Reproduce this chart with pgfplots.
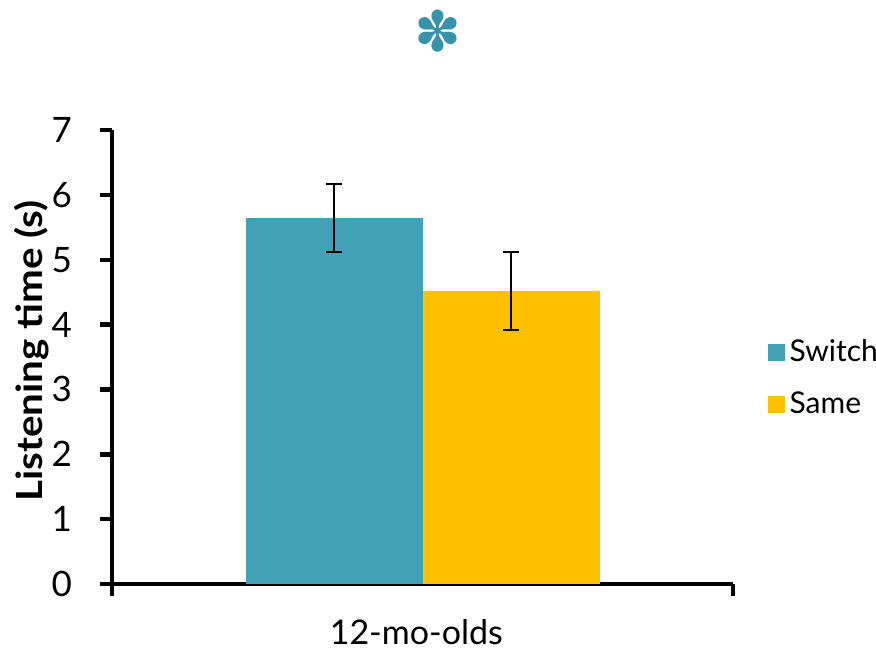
\documentclass[border=0pt]{standalone}
\usepackage{pgfplots}
\pgfplotsset{compat=1.18}
\usepackage{fontspec}
\setmainfont{Lato}
\newfontfamily\ylabfont[FakeStretch=1.12]{Lato}
\newfontfamily\symfont{DejaVu Sans}
\definecolor{cteal}{HTML}{43A1B7}
\definecolor{cyel}{HTML}{FFC000}
\definecolor{cstar}{HTML}{3794A8}
\begin{document}
\begin{tikzpicture}
\begin{axis}[
  at={(0,0)}, anchor=south west,
  width=310.5pt, height=227pt, scale only axis,
  xmin=0, xmax=1, ymin=0, ymax=7,
  axis x line*=bottom, axis y line*=left,
  axis line style={line width=2.2pt, black, -},
  ytick={0,1,2,3,4,5,6,7},
  xtick={0,1}, xticklabels={},
  tick align=outside,
  major tick length=6pt,
  tick style={line width=2.2pt, black},
  /pgf/number format/assume math mode=true,
  ticklabel style={font=\fontsize{17.5}{20}\selectfont},
  yticklabel style={anchor=east, xshift=-10.5pt},
  ybar=0pt, bar width=88.5pt,
  xlabel={12-mo-olds},
  xlabel style={font=\fontsize{17}{20}\selectfont, at={(axis description cs:0.49,0)}, anchor=north, yshift=-14pt},
  ylabel={Listening time (s)},
  ylabel style={font=\ylabfont\fontsize{18}{22}\selectfont\bfseries, at={(axis description cs:-0.13,0.513)}, anchor=center},
  legend style={at={(axis description cs:1.055,0.4537)}, anchor=west, draw=none, fill=none,
    font=\fontsize{15}{18}\selectfont, row sep=11.5pt, inner sep=0pt,
    nodes={inner sep=1pt}},
  legend cell align=left,
  legend image code/.code={\fill[#1] (0pt,-4.25pt) rectangle (8.5pt,4.25pt); \path (10pt,0pt);},
  clip=false,
]
\addplot[fill=cteal, draw=none,
  error bars/.cd, y dir=both, y explicit,
  error bar style={line width=1pt, black},
  error mark options={rotate=90, mark size=4pt, line width=1pt, black}]
  coordinates {(0.5,5.643) +- (0,0.524)};
\addplot[fill=cyel, draw=none,
  error bars/.cd, y dir=both, y explicit,
  error bar style={line width=1pt, black},
  error mark options={rotate=90, mark size=4pt, line width=1pt, black}]
  coordinates {(0.5,4.517) +- (0,0.601)};
\legend{Switch, Same}
\node[text=cstar, font=\symfont\fontsize{28}{28}\selectfont] at (rel axis cs:0.525,1.217) {✽};
\end{axis}
\pgfresetboundingbox
\path[use as bounding box] (-56pt,-33pt) rectangle (382pt,292pt);
\end{tikzpicture}
\end{document}
